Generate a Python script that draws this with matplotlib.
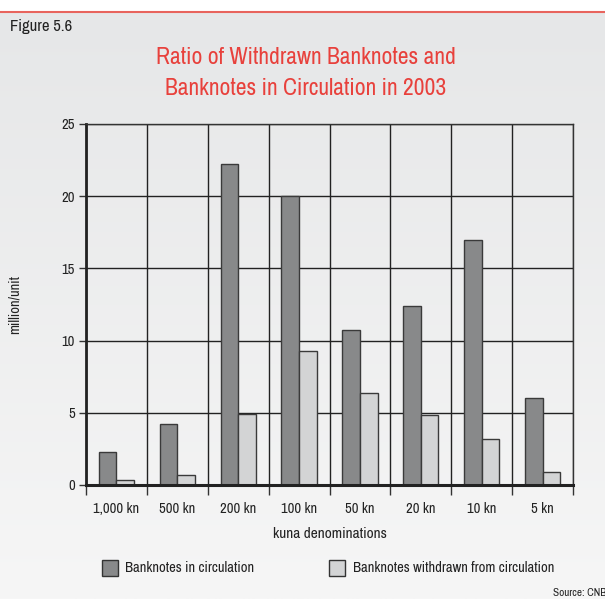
import numpy as np
import matplotlib
matplotlib.use("Agg")
import matplotlib.pyplot as plt
from matplotlib.patches import Rectangle
from matplotlib.lines import Line2D
from matplotlib.colors import LinearSegmentedColormap

categories = ["1,000 kn", "500 kn", "200 kn", "100 kn", "50 kn", "20 kn", "10 kn", "5 kn"]
in_circulation = [2.3, 4.2, 22.2, 20.0, 10.7, 12.4, 17.0, 6.0]
withdrawn = [0.35, 0.7, 4.9, 9.3, 6.35, 4.85, 3.2, 0.9]
yticks = [0, 5, 10, 15, 20, 25]

plt.rcParams["font.family"] = ["Archivo Narrow", "Liberation Sans Narrow", "DejaVu Sans"]

W, H = 605, 599
fig = plt.figure(figsize=(W / 100, H / 100), dpi=100)
fig.patch.set_facecolor("white")

bg = fig.add_axes([0, 0, 1, 1 - 12 / H], zorder=-10)
grad = np.linspace(0, 1, 256).reshape(-1, 1)
cmap = LinearSegmentedColormap.from_list("g", ["#e6e7e8", "#f6f6f6"])
bg.imshow(grad, aspect="auto", cmap=cmap, extent=[0, 1, 0, 1], origin="upper")
bg.set_axis_off()

fig.add_artist(Line2D([0, 1], [1 - 12 / H, 1 - 12 / H], color="#e8645d", lw=1.5, transform=fig.transFigure))

ax = fig.add_axes([86 / W, 1 - 485 / H, (573 - 86) / W, (485 - 124) / H])
ax.patch.set_alpha(0)

x = np.arange(len(categories))
bw = 0.29
dark = "#88898a"
light = "#d3d4d5"
ax.bar(x - bw / 2, in_circulation, bw, color=dark, edgecolor="#3a3a3a", linewidth=1.0, zorder=3)
ax.bar(x + bw / 2, withdrawn, bw, color=light, edgecolor="#3a3a3a", linewidth=1.0, zorder=3)

ax.set_xlim(-0.5, len(categories) - 0.5)
ax.set_ylim(0, 25)
ax.set_yticks(yticks)
ax.set_xticks(x)
ax.set_xticklabels(categories)
ax.set_xticks(np.arange(-0.5, len(categories), 1), minor=True)
ax.tick_params(axis="x", which="major", length=0, pad=12, labelsize=10.5, colors="#222")
ax.tick_params(axis="x", which="minor", length=7, width=1, color="#333")
ax.tick_params(axis="y", which="major", length=5, width=1, color="#333", labelsize=10.5, pad=3, labelcolor="#222")
ax.grid(axis="x", which="minor", color="#222", lw=1.0, zorder=1)
ax.grid(axis="y", which="major", color="#222", lw=1.0, zorder=1)

for s in ["top", "right"]:
    ax.spines[s].set_linewidth(1.0)
    ax.spines[s].set_color("#333")
ax.spines["left"].set_linewidth(2.0)
ax.spines["left"].set_color("#222")
ax.spines["bottom"].set_linewidth(2.2)
ax.spines["bottom"].set_color("#222")
for s in ax.spines.values():
    s.set_zorder(5)

ax.set_xlabel("kuna denominations", fontsize=11, labelpad=8, color="#222")

fig.text(15 / W, 1 - 305 / H, "million/unit", rotation=90, ha="center", va="center", fontsize=10.5, color="#222")
fig.text(10 / W, 1 - 27 / H, "Figure 5.6", ha="left", va="center", fontsize=12, color="#222")
fig.text(306 / W, 1 - 64.5 / H, "Ratio of Withdrawn Banknotes and",
         ha="center", va="baseline", fontsize=17, color="#e8413c")
fig.text(306 / W, 1 - 95 / H, "Banknotes in Circulation in 2003",
         ha="center", va="baseline", fontsize=17, color="#e8413c")

fig.add_artist(Rectangle((102 / W, 1 - 576 / H), 16 / W, 16 / H, transform=fig.transFigure,
                         facecolor=dark, edgecolor="#333", lw=1))
fig.text(125 / W, 1 - 568 / H, "Banknotes in circulation", ha="left", va="center", fontsize=10.5, color="#222")
fig.add_artist(Rectangle((329 / W, 1 - 576 / H), 16 / W, 16 / H, transform=fig.transFigure,
                         facecolor=light, edgecolor="#333", lw=1))
fig.text(353 / W, 1 - 568 / H, "Banknotes withdrawn from circulation", ha="left", va="center", fontsize=10.5, color="#222")

fig.text(553 / W, 1 - 593 / H, "Source: CNB", ha="left", va="center", fontsize=8, color="#222")

fig.savefig("out.png", dpi=100)
